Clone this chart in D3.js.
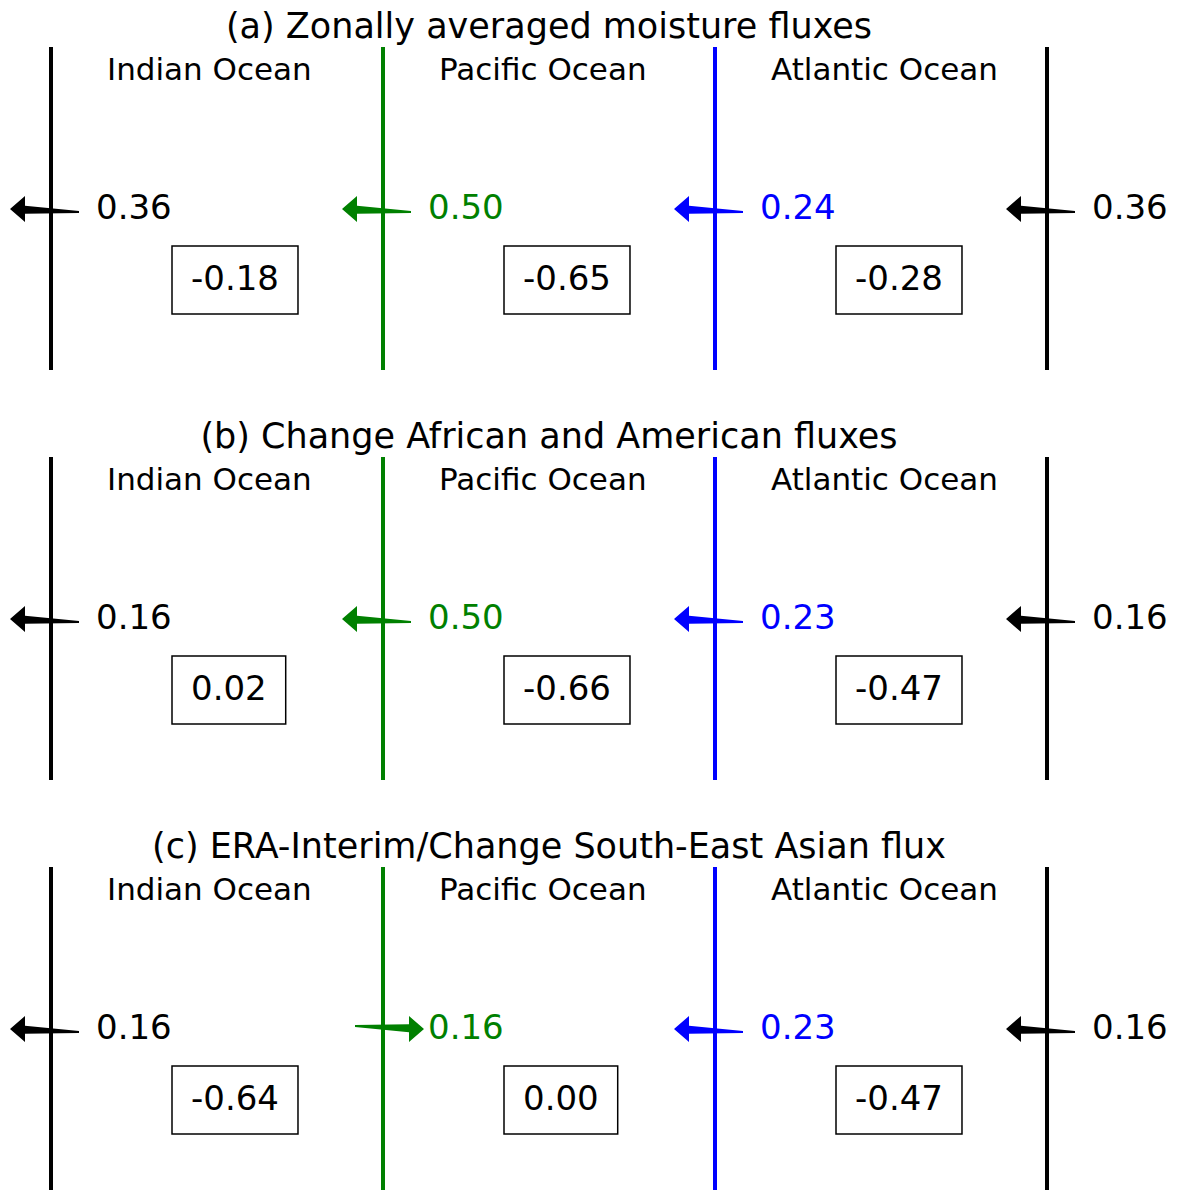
<!DOCTYPE html>
<html>
<head>
<meta charset="utf-8">
<script src="https://cdn.jsdelivr.net/npm/d3@7"></script>
<style>
  html, body { margin: 0; padding: 0; background: #fff; }
  svg { display: block; }
  text { font-family: "DejaVu Sans", sans-serif; }
</style>
</head>
<body>
<svg id="chart" width="1186" height="1191"></svg>
<script>
// ---- data ----
const panelTitles = [
  "(a) Zonally averaged moisture fluxes",
  "(b) Change African and American fluxes",
  "(c) ERA-Interim/Change South-East Asian flux"
];
const oceans = ["Indian Ocean", "Pacific Ocean", "Atlantic Ocean"];
const boundaryColors = ["#000000", "#008000", "#0000ff", "#000000"];
const fluxA = [0.36, 0.50, 0.24, 0.36];
const fluxB = [0.16, 0.50, 0.23, 0.16];
const fluxC = [0.16, 0.16, 0.23, 0.16];
const dirA = [-1, -1, -1, -1];
const dirB = [-1, -1, -1, -1];
const dirC = [-1, 1, -1, -1];
const boxA = [-0.18, -0.65, -0.28];
const boxB = [0.02, -0.66, -0.47];
const boxC = [-0.64, 0.00, -0.47];

const fluxes = [fluxA, fluxB, fluxC];
const dirs = [dirA, dirB, dirC];
const boxes = [boxA, boxB, boxC];

// ---- scales ----
const svg = d3.select("#chart");
const x = d3.scaleLinear().domain([0, 3]).range([51, 1047]);      // boundary index -> px
const panelY = d3.scaleLinear().domain([0, 2]).range([0, 820]);     // panel index -> offset
const fmt = v => d3.format(".2f")(v).replace("\u2212", "-");

panelTitles.forEach((title, p) => {
  const g = svg.append("g").attr("transform", `translate(0,${panelY(p)})`);

  g.append("text")
    .attr("x", 549).attr("y", 38)
    .attr("text-anchor", "middle")
    .attr("font-size", 35)
    .attr("fill", "#000")
    .text(title);

  // boundary lines
  g.selectAll("line.bound").data(boundaryColors).join("line")
    .attr("class", "bound")
    .attr("x1", (d, i) => x(i)).attr("x2", (d, i) => x(i))
    .attr("y1", 47).attr("y2", 370)
    .attr("stroke", d => d).attr("stroke-width", 4);

  // ocean labels
  g.selectAll("text.ocean").data(oceans).join("text")
    .attr("class", "ocean")
    .attr("x", (d, i) => x(i) + 56).attr("y", 80)
    .attr("font-size", 31)
    .attr("fill", "#000")
    .text(d => d);

  // arrows (wedge shape)
  const yc = 209;
  fluxes[p].forEach((v, i) => {
    const dir = dirs[p][i];
    const lx = x(i);
    const tailX = lx - dir * 28, tipX = lx + dir * 41;
    const tailY = yc - dir * 3;
    const headLen = 15, headHalf = 13;
    const baseX = tipX - dir * headLen;
    const tBase = (baseX - tailX) / (tipX - tailX);
    const baseY = tailY + (yc - tailY) * tBase;
    const pts = [
      [tailX, tailY - 1],
      [baseX, baseY - 4],
      [baseX, yc - headHalf],
      [tipX, yc],
      [baseX, yc + headHalf],
      [baseX, baseY + 4],
      [tailX, tailY + 1]
    ];
    g.append("path")
      .attr("d", d3.line()(pts) + "Z")
      .attr("fill", boundaryColors[i])
      .attr("stroke", "none");

    g.append("text")
      .attr("x", lx + 45).attr("y", 219)
      .attr("font-size", 34)
      .attr("fill", boundaryColors[i])
      .text(fmt(v));
  });

  // boxes
  boxes[p].forEach((v, i) => {
    const bx = x(i) + 121;
    const t = g.append("text")
      .attr("x", bx + 19).attr("y", 290)
      .attr("font-size", 34)
      .attr("fill", "#000")
      .text(fmt(v));
    const w = t.node().getComputedTextLength();
    g.insert("rect", "text")
      .attr("x", bx).attr("y", 246)
      .attr("width", w + 38).attr("height", 68)
      .attr("fill", "#fff").attr("stroke", "#000").attr("stroke-width", 1.5);
  });
});
</script>
</body>
</html>
